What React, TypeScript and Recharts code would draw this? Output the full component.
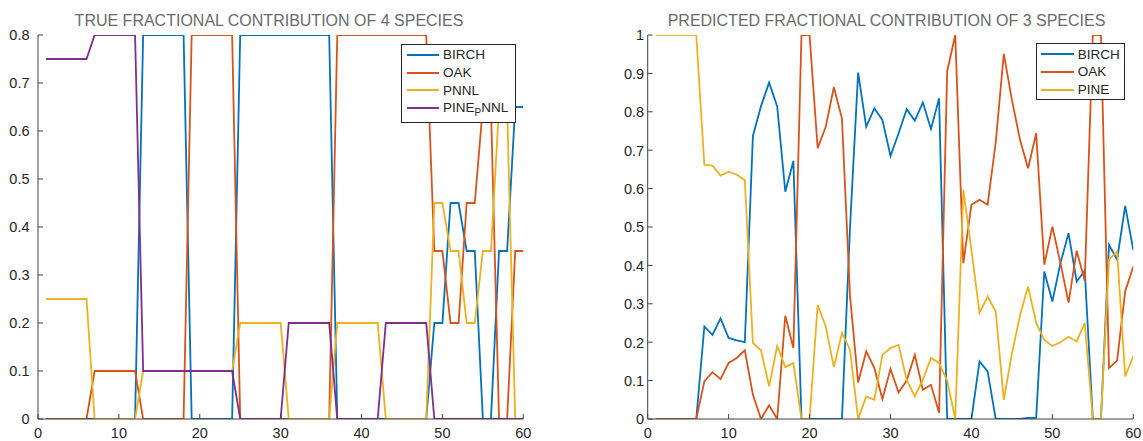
import { Legend, Line, LineChart, XAxis, YAxis } from "recharts";

// sample index on the x axis
const samples = [
  1, 2, 3, 4, 5, 6, 7, 8, 9, 10, 11, 12, 13, 14, 15, 16, 17, 18, 19, 20,
  21, 22, 23, 24, 25, 26, 27, 28, 29, 30, 31, 32, 33, 34, 35, 36, 37, 38, 39, 40,
  41, 42, 43, 44, 45, 46, 47, 48, 49, 50, 51, 52, 53, 54, 55, 56, 57, 58, 59, 60,
];

// left panel: true contributions (4 species)
const trueBirch = [
  0, 0, 0, 0, 0, 0, 0, 0, 0, 0, 0, 0, 0.8, 0.8, 0.8, 0.8, 0.8, 0.8, 0, 0,
  0, 0, 0, 0, 0.8, 0.8, 0.8, 0.8, 0.8, 0.8, 0.8, 0.8, 0.8, 0.8, 0.8, 0.8, 0, 0, 0, 0,
  0, 0, 0, 0, 0, 0, 0, 0, 0.2, 0.2, 0.45, 0.45, 0.35, 0.35, 0, 0, 0.35, 0.35, 0.65, 0.65,
];
const trueOak = [
  0, 0, 0, 0, 0, 0, 0.1, 0.1, 0.1, 0.1, 0.1, 0.1, 0, 0, 0, 0, 0, 0, 0.8, 0.8,
  0.8, 0.8, 0.8, 0.8, 0, 0, 0, 0, 0, 0, 0, 0, 0, 0, 0, 0, 0.8, 0.8, 0.8, 0.8,
  0.8, 0.8, 0.8, 0.8, 0.8, 0.8, 0.8, 0.8, 0.35, 0.35, 0.2, 0.2, 0.45, 0.45, 0.65, 0.65, 0, 0, 0.35, 0.35,
];
const truePnnl = [
  0.25, 0.25, 0.25, 0.25, 0.25, 0.25, 0, 0, 0, 0, 0, 0, 0.1, 0.1, 0.1, 0.1, 0.1, 0.1, 0.1, 0.1,
  0.1, 0.1, 0.1, 0.1, 0.2, 0.2, 0.2, 0.2, 0.2, 0.2, 0, 0, 0, 0, 0, 0, 0.2, 0.2, 0.2, 0.2,
  0.2, 0.2, 0, 0, 0, 0, 0, 0, 0.45, 0.45, 0.35, 0.35, 0.2, 0.2, 0.35, 0.35, 0.65, 0.65, 0, 0,
];
const truePinePnnl = [
  0.75, 0.75, 0.75, 0.75, 0.75, 0.75, 0.8, 0.8, 0.8, 0.8, 0.8, 0.8, 0.1, 0.1, 0.1, 0.1, 0.1, 0.1, 0.1, 0.1,
  0.1, 0.1, 0.1, 0.1, 0, 0, 0, 0, 0, 0, 0.2, 0.2, 0.2, 0.2, 0.2, 0.2, 0, 0, 0, 0,
  0, 0, 0.2, 0.2, 0.2, 0.2, 0.2, 0.2, 0, 0, 0, 0, 0, 0, 0, 0, 0, 0, 0, 0,
];

// right panel: predicted contributions (3 species)
const predBirch = [
  0, 0, 0, 0, 0, 0, 0.241, 0.219, 0.262, 0.211, 0.205, 0.2, 0.737, 0.815, 0.876, 0.814, 0.592, 0.672, 0, 0,
  0, 0, 0, 0, 0.5, 0.902, 0.761, 0.809, 0.779, 0.685, 0.744, 0.807, 0.777, 0.824, 0.755, 0.835, 0, 0, 0, 0,
  0.15, 0.124, 0, 0, 0, 0, 0.003, 0.003, 0.384, 0.306, 0.406, 0.484, 0.358, 0.386, 0, 0, 0.454, 0.415, 0.555, 0.44,
];
const predOak = [
  0, 0, 0, 0, 0, 0, 0.098, 0.122, 0.104, 0.146, 0.159, 0.179, 0.063, 0, 0.036, 0, 0.269, 0.185, 1, 1,
  0.705, 0.761, 0.864, 0.783, 0.32, 0.095, 0.176, 0.133, 0.052, 0.13, 0.069, 0.1, 0.167, 0.076, 0.089, 0.016, 0.905, 1, 0.406, 0.558,
  0.571, 0.558, 0.72, 0.951, 0.831, 0.727, 0.653, 0.744, 0.402, 0.501, 0.406, 0.303, 0.438, 0.36, 1, 1, 0.133, 0.152, 0.333, 0.397,
];
const predPine = [
  1, 1, 1, 1, 1, 1, 0.662, 0.66, 0.634, 0.644, 0.636, 0.622, 0.198, 0.179, 0.085, 0.19, 0.135, 0.146, 0, 0,
  0.297, 0.241, 0.135, 0.224, 0.18, 0, 0.059, 0.05, 0.167, 0.185, 0.193, 0.102, 0.059, 0.102, 0.159, 0.146, 0.1, 0, 0.597, 0.44,
  0.276, 0.319, 0.28, 0.05, 0.17, 0.27, 0.345, 0.25, 0.206, 0.19, 0.2, 0.214, 0.202, 0.25, 0, 0, 0.415, 0.436, 0.111, 0.163,
];

const trueNames = ["BIRCH", "OAK", "PNNL", "PINE_PNNL"];
const predNames = ["BIRCH", "OAK", "PINE"];
const xTicks = [0, 10, 20, 30, 40, 50, 60];
const trueYTicks = [0, 0.1, 0.2, 0.3, 0.4, 0.5, 0.6, 0.7, 0.8];
const predYTicks = [0, 0.1, 0.2, 0.3, 0.4, 0.5, 0.6, 0.7, 0.8, 0.9, 1];

const COLORS = ["#0072BD", "#D95319", "#EDB120", "#7E2F8E"];
const FONT = '"Liberation Sans", Arial, Helvetica, sans-serif';
const AXIS = "#404040";
const INK = "#262626";
const TICK = 5;

const trueData = samples.map((x, i) => ({
  x,
  s0: trueBirch[i],
  s1: trueOak[i],
  s2: truePnnl[i],
  s3: truePinePnnl[i],
}));
const predData = samples.map((x, i) => ({
  x,
  s0: predBirch[i],
  s1: predOak[i],
  s2: predPine[i],
}));

const BottomTick = (props: any) => {
  const { x, y, payload } = props;
  return (
    <g>
      <line x1={x} x2={x} y1={y} y2={y - TICK} stroke={AXIS} />
      <text x={x} y={y + 19} textAnchor="middle" fontSize={14.5} fontFamily={FONT} fill={INK}>
        {payload.value}
      </text>
    </g>
  );
};
const TopTick = ({ x, y }: any) => <line x1={x} x2={x} y1={y} y2={y + TICK} stroke={AXIS} />;
const RightTick = ({ x, y }: any) => <line x1={x} x2={x - TICK} y1={y} y2={y} stroke={AXIS} />;
const leftTick = (gap: number) => (props: any) => {
  const { x, y, payload } = props;
  return (
    <g>
      <line x1={x} x2={x + TICK} y1={y} y2={y} stroke={AXIS} />
      <text x={x - gap} y={y + 5.3} textAnchor="end" fontSize={14.5} fontFamily={FONT} fill={INK}>
        {payload.value}
      </text>
    </g>
  );
};

// MATLAB-style "_" -> subscript of the next char
function legendLabel(name: string) {
  const k = name.indexOf("_");
  if (k < 0) return name;
  return (
    <>
      {name.slice(0, k)}
      <span style={{ fontSize: 10, position: "relative", top: 4 }}>{name[k + 1]}</span>
      {name.slice(k + 2)}
    </>
  );
}

// keep legend rows in plot order (recharts sorts by name otherwise)
const legendContent = (names: string[], lineX: number, lineLen: number, h: number) => () => (
  <div
    style={{
      border: `1px solid ${INK}`,
      background: "#fff",
      height: h,
      boxSizing: "border-box",
      paddingTop: 1,
      fontFamily: FONT,
      fontSize: 13.5,
      color: INK,
    }}
  >
    {names.map((n, i) => (
      <div key={n} style={{ display: "flex", alignItems: "center", height: 17.7, whiteSpace: "nowrap" }}>
        <svg width={lineX + lineLen} height={4} style={{ flex: "none" }}>
          <line x1={lineX} x2={lineX + lineLen} y1={2} y2={2} stroke={COLORS[i]} strokeWidth={2} />
        </svg>
        <span style={{ marginLeft: 4 }}>{legendLabel(n)}</span>
      </div>
    ))}
  </div>
);

function Panel({
  left,
  width,
  plotLeft,
  plotRight,
  data,
  names,
  yMax,
  yTicks,
  labelGap,
  legend,
}: {
  left: number;
  width: number;
  plotLeft: number;
  plotRight: number;
  data: Record<string, number>[];
  names: string[];
  yMax: number;
  yTicks: number[];
  labelGap: number;
  legend: { left: number; top: number; width: number; height: number; lineX: number; lineLen: number };
}) {
  return (
    <div style={{ position: "absolute", left, top: 0 }}>
      <LineChart
        width={width}
        height={441}
        data={data}
        margin={{ top: 35, right: width - plotRight, bottom: 0, left: 0 }}
      >
        <XAxis
          type="number"
          dataKey="x"
          domain={[0, 60]}
          ticks={xTicks}
          interval={0}
          height={22}
          tickSize={0}
          tickMargin={0}
          tickLine={false}
          tick={BottomTick}
          axisLine={{ stroke: AXIS }}
          allowDataOverflow
        />
        <XAxis
          xAxisId="top"
          orientation="top"
          type="number"
          dataKey="x"
          domain={[0, 60]}
          ticks={xTicks}
          interval={0}
          height={0}
          tickSize={0}
          tickMargin={0}
          tickLine={false}
          tick={TopTick}
          axisLine={{ stroke: AXIS }}
          allowDataOverflow
        />
        <YAxis
          type="number"
          domain={[0, yMax]}
          ticks={yTicks}
          interval={0}
          width={plotLeft}
          tickSize={0}
          tickMargin={0}
          tickLine={false}
          tick={leftTick(labelGap)}
          axisLine={{ stroke: AXIS }}
          allowDataOverflow
        />
        <YAxis
          yAxisId="right"
          orientation="right"
          type="number"
          domain={[0, yMax]}
          ticks={yTicks}
          interval={0}
          width={0}
          tickSize={0}
          tickMargin={0}
          tickLine={false}
          tick={RightTick}
          axisLine={{ stroke: AXIS }}
          allowDataOverflow
        />
        {names.map((n, i) => (
          <Line
            key={n}
            type="linear"
            dataKey={`s${i}`}
            name={n}
            stroke={COLORS[i]}
            strokeWidth={1.8}
            dot={false}
            activeDot={false}
            isAnimationActive={false}
          />
        ))}
        <Legend
          layout="vertical"
          align="center"
          verticalAlign="middle"
          content={legendContent(names, legend.lineX, legend.lineLen, legend.height)}
          wrapperStyle={{ left: legend.left, top: legend.top, width: legend.width, height: legend.height }}
        />
      </LineChart>
    </div>
  );
}

const titles = [
  { text: "TRUE FRACTIONAL CONTRIBUTION OF 4 SPECIES", x: 269 },
  { text: "PREDICTED FRACTIONAL CONTRIBUTION OF 3 SPECIES", x: 886.5 },
];

export default function App() {
  return (
    <div style={{ position: "absolute", left: 0, top: 0, width: 1143, height: 441, background: "#fff" }}>
      <Panel
        left={0}
        width={560}
        plotLeft={38}
        plotRight={523.3}
        data={trueData}
        names={trueNames}
        yMax={0.8}
        yTicks={trueYTicks}
        labelGap={8.5}
        legend={{ left: 401, top: 44, width: 115, height: 79, lineX: 5, lineLen: 32 }}
      />
      <Panel
        left={572}
        width={571}
        plotLeft={75.7}
        plotRight={561.3}
        data={predData}
        names={predNames}
        yMax={1}
        yTicks={predYTicks}
        labelGap={3.5}
        legend={{ left: 463.7, top: 43.3, width: 89.5, height: 57, lineX: 4, lineLen: 33 }}
      />
      <svg width={1143} height={40} style={{ position: "absolute", left: 0, top: 0, pointerEvents: "none" }}>
        {titles.map((t) => (
          <text key={t.text} x={t.x} y={26} textAnchor="middle" fontFamily={FONT} fontSize={16} fill="#6b6b6b">
            {t.text}
          </text>
        ))}
      </svg>
    </div>
  );
}
